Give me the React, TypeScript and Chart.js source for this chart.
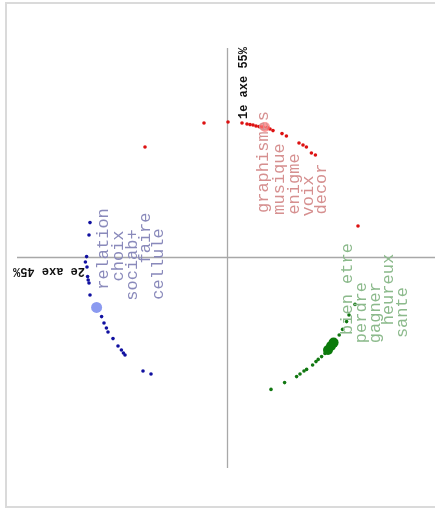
import React, { useEffect, useRef } from "react";
import { Chart, registerables } from "chart.js";

Chart.register(...registerables);

// Data (factor-plane coordinates: horizontal, vertical)
const redX = [-0.41, -0.115, 0.005, 0.075, 0.1, 0.115, 0.13, 0.145, 0.16, 0.17, 0.18, 0.2, 0.205, 0.215, 0.23, 0.275, 0.297, 0.36, 0.38, 0.397, 0.422, 0.442, 0.655];
const redY = [0.55, 0.67, 0.675, 0.67, 0.665, 0.662, 0.66, 0.655, 0.652, 0.65, 0.65, 0.647, 0.645, 0.64, 0.632, 0.617, 0.605, 0.57, 0.56, 0.55, 0.52, 0.51, 0.155];
const redMean = [0.19, 0.65];

const blueX = [-0.685, -0.69, -0.702, -0.708, -0.7, -0.697, -0.694, -0.69, -0.685, -0.627, -0.615, -0.603, -0.595, -0.57, -0.545, -0.528, -0.518, -0.51, -0.42, -0.38];
const blueY = [0.172, 0.11, 0.002, -0.025, -0.05, -0.098, -0.115, -0.13, -0.19, -0.298, -0.33, -0.355, -0.375, -0.408, -0.445, -0.465, -0.48, -0.49, -0.57, -0.585];
const blueMean = [-0.652, -0.252];

const greenX = [0.22, 0.288, 0.348, 0.365, 0.385, 0.398, 0.428, 0.445, 0.456, 0.473, 0.49, 0.501, 0.561, 0.578, 0.598, 0.61, 0.64];
const greenY = [-0.662, -0.628, -0.598, -0.585, -0.57, -0.562, -0.54, -0.523, -0.512, -0.498, -0.482, -0.468, -0.39, -0.362, -0.323, -0.29, -0.237];
const greenMeanX = [0.505, 0.52, 0.533];
const greenMeanY = [-0.465, -0.445, -0.428];

const redLabels = ["graphismes", "musique", "enigme", "voix", "decor"];
const redLabelX = [0.18, 0.26, 0.335, 0.405, 0.47];
const redLabelY = [0.475, 0.39, 0.365, 0.305, 0.34];

const blueLabels = ["relation", "choix", "sociab+", "faire", "cellule"];
const blueLabelX = [-0.62, -0.545, -0.475, -0.41, -0.345];
const blueLabelY = [0.04, 0.005, -0.04, 0.095, -0.035];

const greenLabels = ["bien etre", "perdre", "gagner", "heureux", "sante"];
const greenLabelX = [0.6, 0.672, 0.74, 0.805, 0.875];
const greenLabelY = [-0.16, -0.278, -0.278, -0.163, -0.278];

const axisTitles = ["1e axe 55%", "2e axe 45%"];
const axisTitleX = [0.085, -0.89];
const axisTitleY = [0.87, -0.07];

const xMin = -1.05, xMax = 1.04, yMin = -1.055, yMax = 1.045;

const zip = (xs: number[], ys: number[]) => xs.map((x, i) => ({ x, y: ys[i] }));

export default function App() {
  const ref = useRef<HTMLCanvasElement | null>(null);

  useEffect(() => {
    const canvas = ref.current;
    if (!canvas) return;

    const decor = {
      id: "decor",
      beforeDraw(chart: any) {
        const { ctx } = chart;
        ctx.save();
        ctx.fillStyle = "#ffffff";
        ctx.fillRect(0, 0, chart.width, chart.height);
        ctx.strokeStyle = "#dadada";
        ctx.lineWidth = 2;
        ctx.beginPath();
        ctx.moveTo(chart.width + 5, 3);
        ctx.lineTo(6, 3);
        ctx.lineTo(6, 507);
        ctx.lineTo(chart.width + 5, 507);
        ctx.stroke();
        ctx.restore();
      },
      beforeDatasetsDraw(chart: any) {
        const { ctx, chartArea } = chart;
        const xs = chart.scales.x;
        const ys = chart.scales.y;
        const x0 = xs.getPixelForValue(0);
        const y0 = ys.getPixelForValue(0);
        ctx.save();
        ctx.strokeStyle = "#a8a8a8";
        ctx.lineWidth = 1.3;
        ctx.beginPath();
        ctx.moveTo(Math.round(x0) + 0.5, chartArea.top);
        ctx.lineTo(Math.round(x0) + 0.5, chartArea.bottom);
        ctx.moveTo(chartArea.left, Math.round(y0) + 0.5);
        ctx.lineTo(chartArea.right, Math.round(y0) + 0.5);
        ctx.stroke();
        ctx.restore();
      },
      afterDatasetsDraw(chart: any) {
        const { ctx } = chart;
        const xs = chart.scales.x;
        const ys = chart.scales.y;
        const drawGroup = (labels: string[], lx: number[], ly: number[], color: string) => {
          labels.forEach((t, i) => {
            ctx.save();
            ctx.translate(xs.getPixelForValue(lx[i]), ys.getPixelForValue(ly[i]));
            ctx.rotate(-Math.PI / 2);
            ctx.fillStyle = color;
            ctx.font = '17px "Liberation Mono", "Courier New", monospace';
            ctx.textAlign = "center";
            ctx.textBaseline = "middle";
            ctx.fillText(t, 0, 0);
            ctx.restore();
          });
        };
        drawGroup(redLabels, redLabelX, redLabelY, "#d69090");
        drawGroup(blueLabels, blueLabelX, blueLabelY, "#8a8abb");
        drawGroup(greenLabels, greenLabelX, greenLabelY, "#8cba8c");

        const rotations = [-Math.PI / 2, Math.PI];
        axisTitles.forEach((t, i) => {
          ctx.save();
          ctx.translate(xs.getPixelForValue(axisTitleX[i]), ys.getPixelForValue(axisTitleY[i]));
          ctx.rotate(rotations[i]);
          ctx.fillStyle = "#111111";
          ctx.font = 'bold 12px "Liberation Mono", "Courier New", monospace';
          ctx.textAlign = "center";
          ctx.textBaseline = "middle";
          ctx.fillText(t, 0, 0);
          ctx.restore();
        });
      },
    };

    const chart = new Chart(canvas, {
      type: "scatter",
      data: {
        datasets: [
          {
            data: [{ x: redMean[0], y: redMean[1] }],
            pointRadius: 5,
            backgroundColor: "rgba(255,120,120,0.75)",
            borderWidth: 0,
          },
          {
            data: zip(redX, redY),
            pointRadius: 1.8,
            backgroundColor: "#dd1111",
            borderWidth: 0,
          },
          {
            data: [{ x: blueMean[0], y: blueMean[1] }],
            pointRadius: 5.5,
            backgroundColor: "rgba(100,120,235,0.75)",
            borderWidth: 0,
          },
          {
            data: zip(blueX, blueY),
            pointRadius: 1.8,
            backgroundColor: "#1010a0",
            borderWidth: 0,
          },
          {
            data: zip(greenMeanX, greenMeanY),
            pointRadius: 5,
            backgroundColor: "#0b7a0b",
            borderWidth: 0,
          },
          {
            data: zip(greenX, greenY),
            pointRadius: 1.8,
            backgroundColor: "#117711",
            borderWidth: 0,
          },
        ],
      },
      options: {
        animation: false,
        responsive: false,
        devicePixelRatio: 1,
        layout: { autoPadding: false, padding: { left: 17, top: 48, right: 0, bottom: 42 } },
        plugins: { legend: { display: false }, tooltip: { enabled: false }, title: { display: false } },
        scales: {
          x: { type: "linear", min: xMin, max: xMax, display: false },
          y: { type: "linear", min: yMin, max: yMax, display: false },
        },
      },
      plugins: [decor],
    });

    return () => chart.destroy();
  }, []);

  return (
    <div style={{ position: "fixed", left: 0, top: 0, width: 435, height: 510, background: "#fff" }}>
      <canvas ref={ref} width={435} height={510} style={{ width: 435, height: 510, display: "block" }} />
    </div>
  );
}
